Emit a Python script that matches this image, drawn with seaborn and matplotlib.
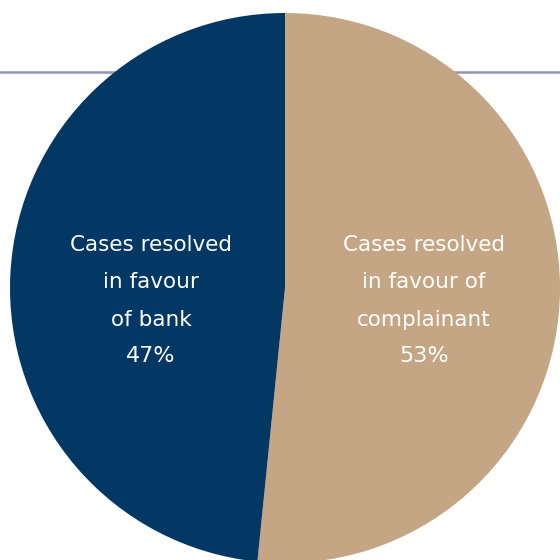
import matplotlib
matplotlib.use("Agg")
import matplotlib.pyplot as plt
import seaborn as sns

# Data
categories = ["Cases resolved\nin favour of\ncomplainant", "Cases resolved\nin favour\nof bank"]
pct_labels = ["53%", "47%"]
wedge_shares = [51.6, 48.4]  # slice sizes
colors = ["#C4A684", "#033764"]

sns.set_style("white")
plt.rcParams["font.family"] = ["DejaVu Sans"]

fig = plt.figure(figsize=(5.6, 5.6), dpi=100)
ax = fig.add_axes([0, 0, 1, 1])

# horizontal rule behind the pie
ax.axhline(560 - 72, color="#8E96B8", linewidth=1.8, zorder=0)

cx, cy, r = 285, 560 - 288, 275
wedges, _ = ax.pie(wedge_shares, colors=colors, startangle=90, counterclock=False,
                   center=(cx, cy), radius=r, frame=True,
                   wedgeprops=dict(linewidth=0))
for w in wedges:
    w.set_zorder(2)
ax.set_xlim(0, 560)
ax.set_ylim(0, 560)
ax.set_aspect("equal")
ax.axis("off")

label_x = [424, 151]
line_y = [245, 282, 320, 356]
for i, (cat, pct) in enumerate(zip(categories, pct_labels)):
    lines = cat.split("\n") + [pct]
    for j, t in enumerate(lines):
        ax.text(label_x[i], 560 - line_y[j], t, color="white",
                fontsize=16 if j == 3 else 15.5,
                ha="center", va="center", zorder=3)

fig.savefig("out.png", dpi=100)
